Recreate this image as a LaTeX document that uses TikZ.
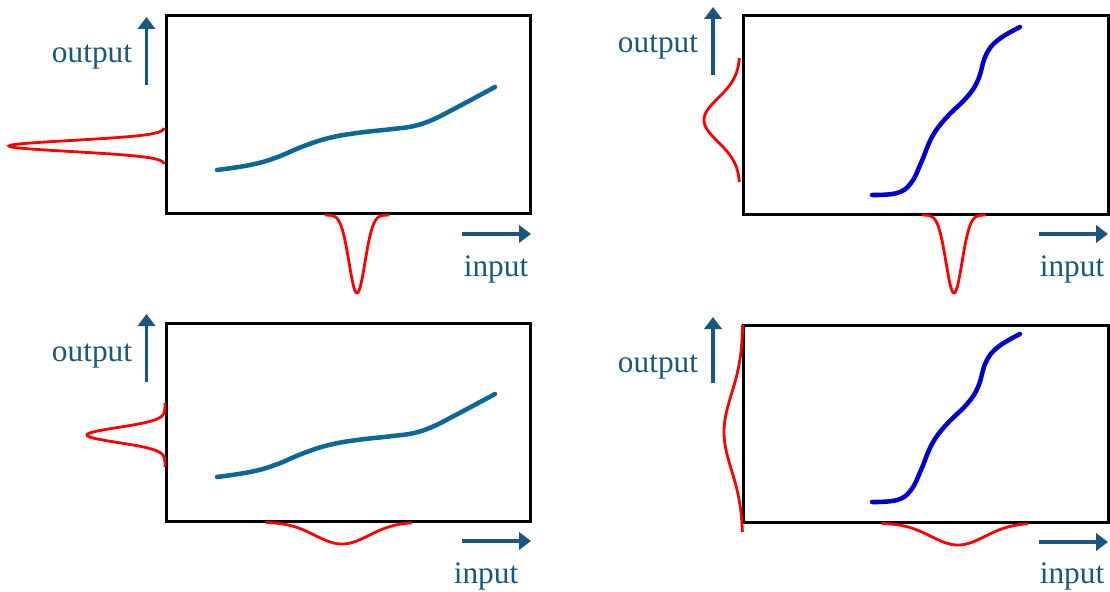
\documentclass[tikz,border=0pt]{standalone}
\usepackage{fontspec}
\setmainfont{Liberation Serif}
\usetikzlibrary{arrows.meta}

\definecolor{axisblue}{RGB}{24,88,128}
\definecolor{flatblue}{RGB}{12,104,152}
\definecolor{steepblue}{RGB}{0,0,204}

\tikzset{
  plotframe/.style={line width=2.25},
  flatline/.style={color=flatblue, line width=3.4, line cap=round},
  steepline/.style={color=steepblue, line width=3.4, line cap=round},
  pdfline/.style={color=red, line width=2.1},
  axisarrow/.style={color=axisblue, line width=2.4, -{Triangle[length=9,width=13]}},
  lbl/.style={text=axisblue, inner sep=0pt, anchor=base, font=\fontsize{23.5}{28}\selectfont}
}

\begin{document}
\begin{tikzpicture}[x=0.75pt,y=0.75pt,yscale=-1]
\useasboundingbox (0,0) rectangle (1110,592);

%Frames
\draw [plotframe] (166,16) rectangle (530,213);
\draw [plotframe] (743,16) rectangle (1108,214);
\draw [plotframe] (166,323) rectangle (530,521);
\draw [plotframe] (743,325) rectangle (1108,522);

%Curve Lines (transfer curves)
\draw [flatline] plot [smooth, tension=0.7] coordinates {(217,170) (250,165) (275,158) (304,146) (329,138) (357,133) (393,129) (414,126) (432,120) (452,110) (495,87)};
\draw [steepline] plot [smooth, tension=0.7] coordinates {(872,195) (897,193) (911,183) (921,163) (932,137) (946,118) (967,97) (978,80) (986,55) (998,40) (1020,27)};
\draw [flatline] plot [smooth, tension=0.7] coordinates {(217,477) (250,472) (275,465) (304,453) (329,445) (357,440) (393,436) (414,433) (432,427) (452,417) (495,394)};
\draw [steepline] plot [smooth, tension=0.7] coordinates {(872,502) (897,500) (911,490) (921,470) (932,444) (946,425) (967,404) (978,387) (986,362) (998,347) (1020,334)};

%Curve Lines (distributions)
\draw [pdfline] plot [domain=-18:18, samples=61, variable=\t] ({165-156*exp(-\t*\t/60)},{146+\t});
\draw [pdfline] plot [domain=-32:32, samples=81, variable=\t] ({357+\t},{215+78*exp(-\t*\t/128)});
\draw [pdfline] plot [domain=-62:62, samples=81, variable=\t] ({740-36*exp(-\t*\t/968)},{120+\t});
\draw [pdfline] plot [domain=-32:32, samples=81, variable=\t] ({954+\t},{215+78*exp(-\t*\t/128)});
\draw [pdfline] plot [domain=-32:32, samples=81, variable=\t] ({165-78*exp(-\t*\t/112)},{435+\t});
\draw [pdfline] plot [domain=-76:70, samples=81, variable=\t] ({342+\t},{522+22*exp(-\t*\t/1458)});
\draw [pdfline] plot [domain=-107:100, samples=101, variable=\t] ({743-19*exp(-\t*\t/2888)},{432+\t});
\draw [pdfline] plot [domain=-76:70, samples=81, variable=\t] ({958+\t},{523+22*exp(-\t*\t/1458)});

%Straight Lines (axis arrows)
\coordinate (upTLs) at (146.5,85);  \coordinate (upTLe) at (146.5,17);
\coordinate (upTRs) at (713,75);    \coordinate (upTRe) at (713,7);
\coordinate (upBLs) at (146.5,382); \coordinate (upBLe) at (146.5,314);
\coordinate (upBRs) at (713,383);   \coordinate (upBRe) at (713,317);
\coordinate (rtTLs) at (462,234);   \coordinate (rtTLe) at (531,234);
\coordinate (rtTRs) at (1039,234);  \coordinate (rtTRe) at (1108,234);
\coordinate (rtBLs) at (462,541);   \coordinate (rtBLe) at (531,541);
\coordinate (rtBRs) at (1039,542);  \coordinate (rtBRe) at (1108,542);
\draw [axisarrow] (upTLs) -- (upTLe);
\draw [axisarrow] (upTRs) -- (upTRe);
\draw [axisarrow] (upBLs) -- (upBLe);
\draw [axisarrow] (upBRs) -- (upBRe);
\draw [axisarrow] (rtTLs) -- (rtTLe);
\draw [axisarrow] (rtTRs) -- (rtTRe);
\draw [axisarrow] (rtBLs) -- (rtBLe);
\draw [axisarrow] (rtBRs) -- (rtBRe);

% Text Node
\node [lbl] (outTL) at (92,63) {output};
% Text Node
\node [lbl] (inTL) at (496,276) {input};
% Text Node
\node [lbl] (outTR) at (658,53) {output};
% Text Node
\node [lbl] (inTR) at (1072,276) {input};
% Text Node
\node [lbl] (outBL) at (92,361) {output};
% Text Node
\node [lbl] (inBL) at (486,583) {input};
% Text Node
\node [lbl] (outBR) at (658,372) {output};
% Text Node
\node [lbl] (inBR) at (1072,583) {input};
\end{tikzpicture}
\end{document}
